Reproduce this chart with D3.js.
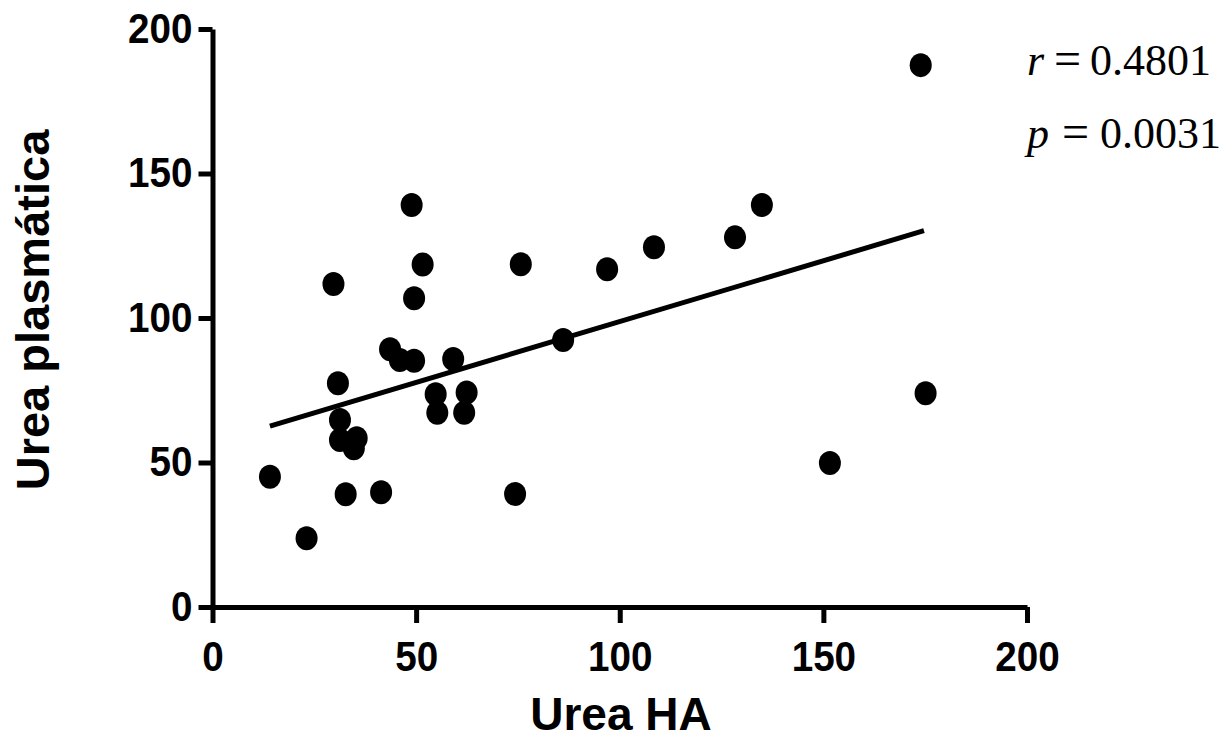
<!DOCTYPE html>
<html>
<head>
<meta charset="utf-8">
<script src="https://cdn.jsdelivr.net/npm/d3@7"></script>
<style>
  body { margin: 0; background: #fff; }
  svg { display: block; }
</style>
</head>
<body>
<svg id="chart"></svg>
<script>
// Urea HA (x) vs Urea plasmática (y)
const ureaHA = [173.9, 48.9, 134.9, 128.3, 108.4, 96.9, 75.7, 51.6, 29.7, 49.5, 86.1,
  43.6, 46.0, 49.5, 59.1, 30.8, 54.8, 62.4, 55.2, 61.8, 31.3, 175.1, 31.3, 35.4, 34.7,
  14.1, 151.6, 32.7, 41.4, 74.3, 23.1];
const ureaPlasma = [187.5, 139.1, 139.1, 127.9, 124.5, 116.9, 118.6, 118.5, 111.8, 106.8, 92.4,
  89.2, 85.5, 85.2, 85.8, 77.4, 73.6, 74.2, 67.2, 67.2, 64.7, 74.0, 57.8, 58.4, 54.9,
  45.1, 49.8, 39.0, 39.7, 39.1, 23.8];

// regression line end points
const fitX = [14.1, 174.7];
const fitY = [62.6, 130.2];

const xTicks = [0, 50, 100, 150, 200];
const yTicks = [0, 50, 100, 150, 200];

const statLetters = ["r", "p"];
const statValues = ["0.4801", "0.0031"];

const width = 1232;
const height = 740;

const svg = d3.select("#chart").attr("width", width).attr("height", height);

const x = d3.scaleLinear().domain([0, 200]).range([212.5, 1027]);
const y = d3.scaleLinear().domain([0, 200]).range([607, 29]);

const sans = "'Liberation Sans', Arial, Helvetica, sans-serif";
const serif = "'Liberation Serif', 'Times New Roman', Times, serif";

// x axis
const xAxis = svg.append("g")
  .attr("transform", `translate(0,${y(0)})`)
  .call(d3.axisBottom(x).tickValues(xTicks).tickSize(16).tickSizeOuter(0).tickPadding(18));

// y axis
const yAxis = svg.append("g")
  .attr("transform", `translate(${x(0)},0)`)
  .call(d3.axisLeft(y).tickValues(yTicks).tickSize(14).tickSizeOuter(0).tickPadding(6));

[xAxis, yAxis].forEach(g => {
  g.select(".domain").attr("stroke", "#000").attr("stroke-width", 5);
  g.selectAll(".tick line").attr("stroke", "#000").attr("stroke-width", 5);
  g.selectAll(".tick text")
    .attr("fill", "#000")
    .style("font-family", sans)
    .style("font-weight", "bold")
    .style("font-size", "42px");
});

// narrow the tick labels a little, like the original
svg.selectAll(".tick text").each(function () {
  const len = this.getComputedTextLength();
  d3.select(this).attr("textLength", len * 0.92).attr("lengthAdjust", "spacingAndGlyphs");
});

// axis titles
svg.append("text")
  .attr("x", 621)
  .attr("y", 730)
  .attr("text-anchor", "middle")
  .style("font-family", sans)
  .style("font-weight", "bold")
  .style("font-size", "46px")
  .text("Urea HA");

svg.append("text")
  .attr("transform", `translate(49,310) rotate(-90)`)
  .attr("text-anchor", "middle")
  .style("font-family", sans)
  .style("font-weight", "bold")
  .style("font-size", "47px")
  .text("Urea plasmática");

// regression line
const line = d3.line()
  .x(d => x(d[0]))
  .y(d => y(d[1]));

svg.append("path")
  .datum(d3.zip(fitX, fitY))
  .attr("fill", "none")
  .attr("stroke", "#000")
  .attr("stroke-width", 5)
  .attr("d", line);

// points
svg.append("g")
  .selectAll("ellipse")
  .data(d3.zip(ureaHA, ureaPlasma))
  .join("ellipse")
  .attr("cx", d => x(d[0]))
  .attr("cy", d => y(d[1]))
  .attr("rx", 11)
  .attr("ry", 12)
  .attr("fill", "#000");

// stats
const statRows = [
  { baseline: 75, eqX: 1054, numX: 1090 },
  { baseline: 148, eqX: 1062, numX: 1100 }
];

statRows.forEach((row, i) => {
  const g = svg.append("g")
    .style("font-family", serif)
    .style("font-size", "44px")
    .attr("fill", "#000");
  g.append("text")
    .attr("x", 1027)
    .attr("y", row.baseline)
    .style("font-style", "italic")
    .text(statLetters[i]);
  g.append("text")
    .attr("x", row.eqX)
    .attr("y", row.baseline)
    .style("font-size", "48px")
    .text("=");
  g.append("text")
    .attr("x", row.numX)
    .attr("y", row.baseline)
    .text(statValues[i]);
});
</script>
</body>
</html>
